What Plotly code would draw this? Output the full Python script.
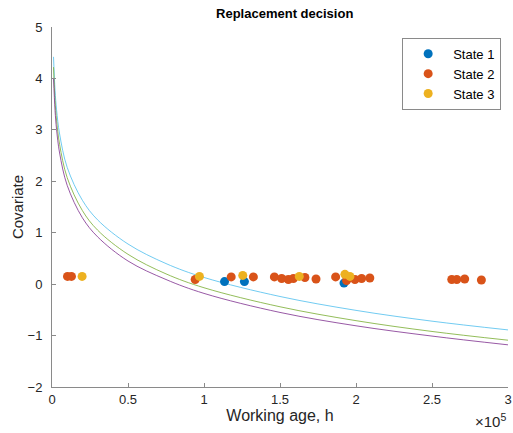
import plotly.graph_objects as go

# Threshold curves: working age (h) vs covariate level
curve_age = [1e3, 2e3, 3e3, 5e3, 1e4, 2e4, 3e4, 5e4, 7.5e4, 1e5, 1.5e5, 2e5, 2.5e5, 3e5]
curve_cyan = [4.42, 3.77, 3.39, 2.92, 2.27, 1.63, 1.25, 0.78, 0.40, 0.13, -0.24, -0.51, -0.72, -0.89]
curve_green = [4.22, 3.57, 3.19, 2.72, 2.07, 1.43, 1.05, 0.58, 0.20, -0.07, -0.44, -0.71, -0.92, -1.09]
curve_purple = [4.01, 3.38, 3.01, 2.55, 1.92, 1.29, 0.92, 0.45, 0.09, -0.18, -0.55, -0.81, -1.01, -1.18]

# Replacement events per state
s1_age = [1.135e5, 1.266e5, 1.921e5]
s1_cov = [0.05, 0.05, 0.02]

s2_age = [0.102e5, 0.128e5, 0.942e5, 1.179e5, 1.325e5, 1.463e5, 1.511e5, 1.555e5,
          1.588e5, 1.664e5, 1.737e5, 1.866e5, 1.938e5, 1.949e5, 1.993e5, 2.037e5,
          2.091e5, 2.630e5, 2.663e5, 2.715e5, 2.825e5]
s2_cov = [0.15, 0.15, 0.09, 0.14, 0.14, 0.14, 0.11, 0.09,
          0.11, 0.13, 0.10, 0.14, 0.07, 0.12, 0.09, 0.11,
          0.12, 0.09, 0.09, 0.10, 0.08]

s3_age = [0.198e5, 0.970e5, 1.255e5, 1.627e5, 1.927e5, 1.960e5]
s3_cov = [0.15, 0.15, 0.17, 0.15, 0.19, 0.15]

x_ticks = [0, 0.5e5, 1e5, 1.5e5, 2e5, 2.5e5, 3e5]
x_labels = ["0", "0.5", "1", "1.5", "2", "2.5", "3"]
y_ticks = [-2, -1, 0, 1, 2, 3, 4, 5]

FONT = "Liberation Sans, Arial, sans-serif"
TXT = "#262626"

fig = go.Figure()

for ys, col in [(curve_cyan, "#4DBEEE"), (curve_green, "#77AC30"), (curve_purple, "#7E2F8E")]:
    fig.add_trace(go.Scatter(x=curve_age, y=ys, mode="lines", line=dict(color=col, width=0.8, shape="spline"),
                             showlegend=False, hoverinfo="skip"))

for name, xs, ys, col in [("State 1", s1_age, s1_cov, "#0072BD"),
                          ("State 2", s2_age, s2_cov, "#D95319"),
                          ("State 3", s3_age, s3_cov, "#EDB120")]:
    fig.add_trace(go.Scatter(x=xs, y=ys, mode="markers", name=name,
                             marker=dict(color=col, size=9, line=dict(width=0))))

axis_common = dict(showgrid=False, zeroline=False, showline=True, linecolor="#8a8a8a", linewidth=1,
                   ticks="inside", ticklen=4, tickcolor="#8a8a8a", mirror=False, automargin=False,
                   tickfont=dict(family=FONT, size=13, color=TXT))

fig.update_xaxes(range=[0, 3e5], tickvals=x_ticks, ticktext=x_labels,
                 title=dict(text="Working age, h", font=dict(family=FONT, size=16, color=TXT), standoff=0),
                 **axis_common)
fig.update_yaxes(range=[-2, 5], tickvals=y_ticks, ticklabelstandoff=6,
                 title=dict(text="Covariate", font=dict(family=FONT, size=15, color=TXT), standoff=0),
                 **axis_common)

fig.update_layout(
    width=513, height=433,
    margin=dict(l=52, r=5, t=27, b=46),
    plot_bgcolor="white", paper_bgcolor="white",
    title=dict(text="<b>Replacement decision</b>", x=0.555, xanchor="center", y=0.968, yanchor="middle",
               font=dict(family=FONT, size=13, color="#000")),
    legend=dict(x=0.985, y=0.97, xanchor="right", yanchor="top", bgcolor="white",
                bordercolor="#8a8a8a", borderwidth=1, font=dict(family=FONT, size=13, color="#000"),
                itemwidth=40, tracegroupgap=0),
    annotations=[dict(text="\u00d710<sup>5</sup>", x=1.0, y=-0.125, xref="paper", yref="paper",
                      xanchor="right", yanchor="bottom", showarrow=False,
                      font=dict(family=FONT, size=15, color=TXT))],
)

fig.write_html("out.html")
